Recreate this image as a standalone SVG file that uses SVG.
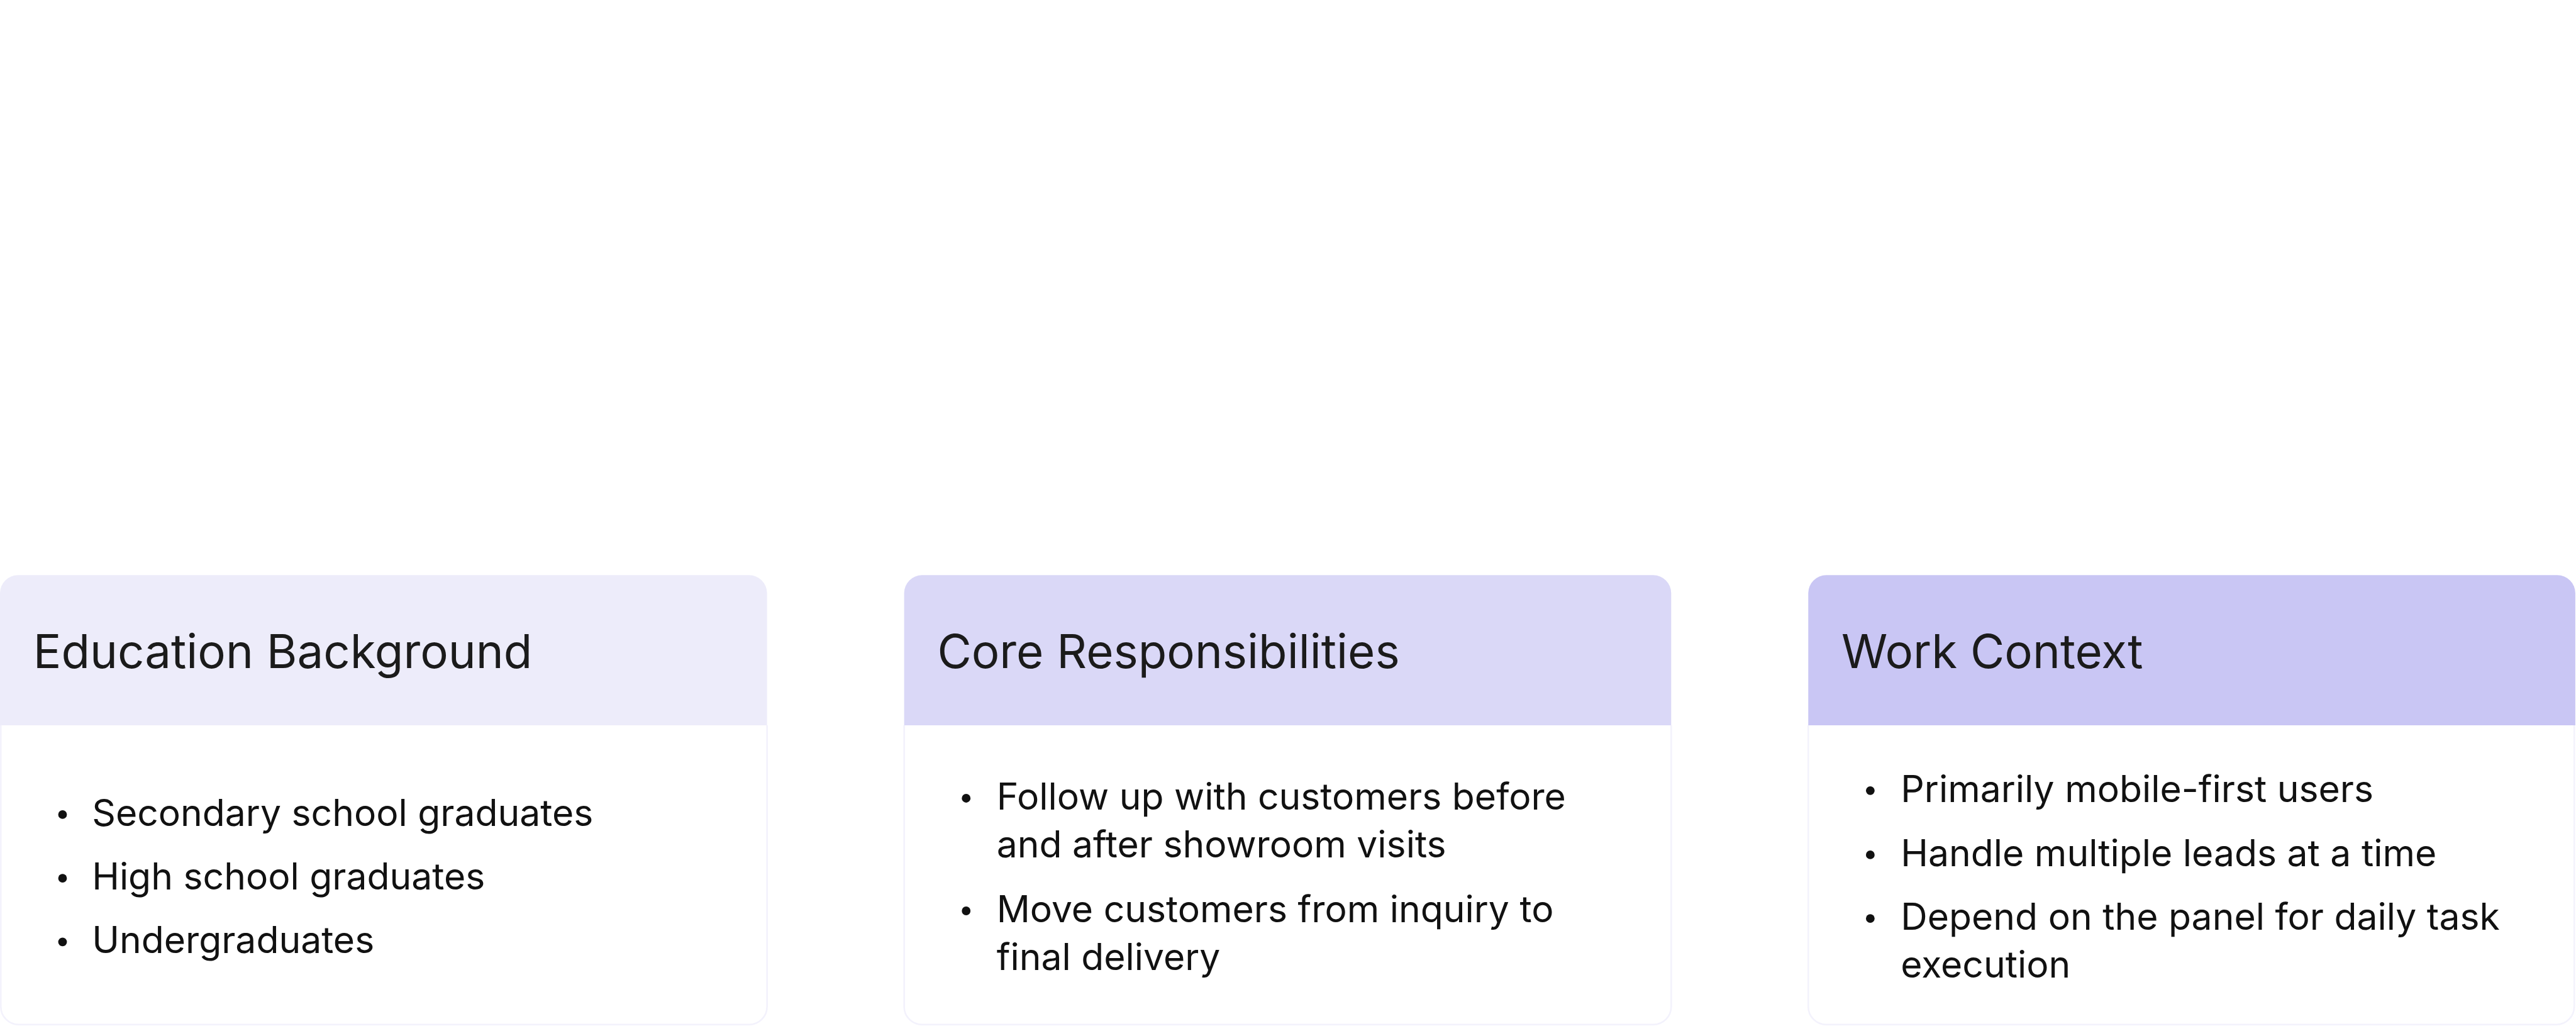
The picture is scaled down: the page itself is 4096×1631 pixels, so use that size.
<svg xmlns="http://www.w3.org/2000/svg" width="4096" height="1631" viewBox="0 0 4096 1631">
<defs>
<style>
.title{font-family:"Liberation Sans",Arial,sans-serif;font-size:120px;fill:#ffffff;text-anchor:middle}
.head{font-family:Inter,"Noto Sans",sans-serif;font-size:86px;fill:#1b1b1b}
.item{font-family:Inter,"Noto Sans",sans-serif;font-size:68px;fill:#111111}
.body{fill:#ffffff;stroke:#f3f2fc;stroke-width:3}
.conn{fill:none;stroke:#ffffff;stroke-width:4;stroke-linecap:round;stroke-linejoin:round}
.h1{fill:#edecfa}
.h2{fill:#dad8f7}
.h3{fill:#c9c6f4}
</style>
<marker id="chev" viewBox="-40 -40 50 80" markerWidth="50" markerHeight="80" refX="0" refY="0" orient="auto" markerUnits="userSpaceOnUse">
<path d="M-32,-32 L0,0 L-32,32" fill="none" stroke="#ffffff" stroke-width="4" stroke-linecap="round" stroke-linejoin="round"/>
</marker>
</defs>
<rect width="4096" height="1631" fill="#ffffff"/>
<g transform="scale(0.865)">
<g id="title">
<text class="title" x="2367" y="113">Car Advisors</text>
</g>
<g id="connectors">
<path class="conn" d="M2365,333 V408"/>
<path class="conn" d="M2365,408 C2365,460 2330,482 2297,482 H802 A70,70 0 0 0 732,552 V867" marker-end="url(#chev)"/>
<path class="conn" d="M2365,408 C2365,460 2400,482 2437,482 H3933 A67,67 0 0 1 4000,549 V867" marker-end="url(#chev)"/>
<path class="conn" d="M2367,408 V872" marker-end="url(#chev)"/>
</g>
<g id="card-education">
<path class="h1" d="M0,1333 V1090 A33,33 0 0 1 33,1057 H1377 A33,33 0 0 1 1410,1090 V1333 Z"/>
<path class="body" d="M1.5,1333 V1850 A33,33 0 0 0 34.5,1883 H1377 A33,33 0 0 0 1410,1850 V1333"/>
<text class="head" x="61" y="1228">Education Background</text>
<circle cx="115" cy="1497" r="8" fill="#111111"/>
<text class="item" x="169" y="1518">Secondary school graduates</text>
<circle cx="115" cy="1614" r="8" fill="#111111"/>
<text class="item" x="169" y="1635">High school graduates</text>
<circle cx="115" cy="1731" r="8" fill="#111111"/>
<text class="item" x="169" y="1752">Undergraduates</text>
</g>
<g id="card-responsibilities">
<path class="h2" d="M1662,1333 V1090 A33,33 0 0 1 1695,1057 H3039 A33,33 0 0 1 3072,1090 V1333 Z"/>
<path class="body" d="M1662,1333 V1850 A33,33 0 0 0 1695,1883 H3039 A33,33 0 0 0 3072,1850 V1333"/>
<text class="head" x="1723" y="1228">Core Responsibilities</text>
<circle cx="1776" cy="1467" r="8" fill="#111111"/>
<text class="item" x="1832" y="1488">Follow up with customers before</text>
<text class="item" x="1832" y="1576">and after showroom visits</text>
<circle cx="1776" cy="1674" r="8" fill="#111111"/>
<text class="item" x="1832" y="1695">Move customers from inquiry to</text>
<text class="item" x="1832" y="1783">final delivery</text>
</g>
<g id="card-work">
<path class="h3" d="M3324,1333 V1090 A33,33 0 0 1 3357,1057 H4701 A33,33 0 0 1 4734,1090 V1333 Z"/>
<path class="body" d="M3324,1333 V1850 A33,33 0 0 0 3357,1883 H4699 A33,33 0 0 0 4732,1850 V1333"/>
<text class="head" x="3385" y="1228">Work Context</text>
<circle cx="3438" cy="1453" r="8" fill="#111111"/>
<text class="item" x="3494" y="1474">Primarily mobile-first users</text>
<circle cx="3438" cy="1571" r="8" fill="#111111"/>
<text class="item" x="3494" y="1592">Handle multiple leads at a time</text>
<circle cx="3438" cy="1688" r="8" fill="#111111"/>
<text class="item" x="3494" y="1709">Depend on the panel for daily task</text>
<text class="item" x="3494" y="1796">execution</text>
</g>
</g>
</svg>
